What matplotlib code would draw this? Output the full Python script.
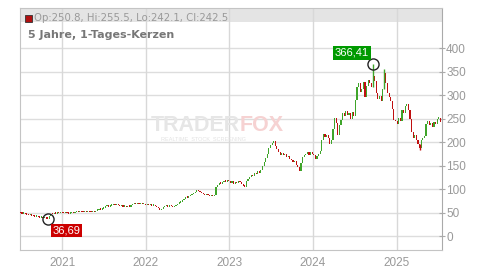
import matplotlib
matplotlib.use("Agg")
import matplotlib.pyplot as plt
import matplotlib.dates as mdates
import numpy as np
import pandas as pd

plt.rcParams['font.family'] = ['Liberation Sans', 'DejaVu Sans']

# Weekly closing prices
closes_2020 = [49, 48, 49, 47, 46,
               45, 46, 44, 43,
               42, 43, 41, 40,
               41, 39, 40, 38, 37.5,
               44, 48, 47, 49,
               48, 50, 49, 51]
closes_2021 = [50, 49, 51, 50, 48,
               49, 51, 50, 52,
               53, 51, 54, 52,
               51, 53, 52, 54, 52,
               51, 53, 52, 55,
               56, 58, 57, 59,
               61, 64, 66, 63, 65,
               67, 69, 66, 68,
               66, 64, 65, 63,
               64, 62, 65, 63, 66,
               68, 70, 69, 71,
               69, 70, 68, 69, 67]
closes_2022 = [68, 66, 67, 65,
               66, 64, 62, 60,
               56, 58, 62, 64,
               65, 63, 66, 64, 62,
               64, 67, 70, 72,
               74, 77, 80, 83,
               82, 85, 88, 90, 92,
               95, 98, 96, 94,
               92, 90, 88, 89, 87,
               86, 88, 85, 89,
               104, 110, 113, 112,
               115, 118, 116, 119, 117]
closes_2023 = [114, 117, 112, 116,
               113, 118, 115, 111,
               108, 106, 118, 122, 126,
               130, 128, 134, 132,
               138, 135, 142, 150,
               158, 166, 175, 188, 195,
               198, 202, 192, 185,
               180, 174, 178, 172,
               175, 168, 171, 165, 162,
               158, 160, 152, 148,
               140, 155, 168, 172,
               175, 179, 174, 180, 176]
closes_2024 = [172, 165, 170, 176,
               182, 205, 218, 212,
               216, 208, 196, 204, 228,
               252, 240, 215, 236,
               248, 262, 255, 266, 258,
               262, 250, 264, 255,
               290, 318, 325, 306,
               312, 328, 296, 320, 332,
               326, 318, 340, 330,
               304, 292, 298, 288,
               312, 348, 325, 305, 296,
               288, 270, 248, 245]
closes_2025 = [238, 252, 246, 268, 262,
               278, 282, 268, 250,
               222, 208, 215, 205,
               196, 188, 204, 210,
               214, 238, 246, 236, 240,
               232, 244, 238, 250,
               250.8, 242.5]

first_open = 50.0
start_date = "2020-07-03"

low_date, low_value = "2020-10-30", 36.69
high_date, high_value = "2024-09-20", 366.41
extra_high_date, extra_high_value = "2024-11-08", 355.0
extra_low_date, extra_low_value = "2025-04-11", 183.0

header_text = "Op:250.8, Hi:255.5, Lo:242.1, Cl:242.5"
title_text = "5 Jahre, 1-Tages-Kerzen"
y_ticks = [0, 50, 100, 150, 200, 250, 300, 350, 400]
x_tick_years = [2021, 2022, 2023, 2024, 2025]

closes = np.array(closes_2020 + closes_2021 + closes_2022 + closes_2023 + closes_2024 + closes_2025, dtype=float)
opens = np.concatenate([[first_open], closes[:-1]])
dates = pd.date_range(start_date, periods=len(closes), freq="7D")
xd = mdates.date2num(dates)

GREEN = "#3fa52a"
RED = "#c01010"

fig = plt.figure(figsize=(5, 2.7), dpi=100)
ax = fig.add_axes([20/500, 20/270, 422/500, 242/270])
ax.set_xlim(mdates.date2num(pd.Timestamp("2020-07-01")), mdates.date2num(pd.Timestamp("2025-07-18")))
ax.set_ylim(-28.7, 485)

# header band
ax.axhspan(455, 485, color="#e4e4e4", zorder=0, lw=0)

# grid
for yv in y_ticks:
    ax.axhline(yv, color="#dddddd", lw=1, zorder=1)
for yr in x_tick_years:
    ax.axvline(mdates.date2num(pd.Timestamp(f"{yr}-01-01")), color="#d8d8d8", lw=1, zorder=1)

# watermark
ax.text(0.521, 0.515, "TRADER", transform=ax.transAxes, ha="right", va="center",
        fontsize=15.5, fontweight="bold", color="#e6e6e6", zorder=1)
ax.text(0.521, 0.515, "FOX", transform=ax.transAxes, ha="left", va="center",
        fontsize=15.5, fontweight="bold", color="#f6d2d2", zorder=1)
ax.text(0.436, 0.458, "REALTIME  STOCK  SCREENING", transform=ax.transAxes, ha="center", va="center",
        fontsize=4.0, color="#e2e2e2", zorder=1)

# candles
up = closes >= opens
colors = np.where(up, GREEN, RED)
bottoms = np.minimum(opens, closes)
heights = np.maximum(np.abs(closes - opens), 3.0)
ax.bar(xd, heights, bottom=bottoms, width=5.0, color=colors, lw=0, zorder=3)

# notable wicks
def wick(d, v):
    x = mdates.date2num(pd.Timestamp(d))
    i = np.argmin(np.abs(xd - x))
    lo = min(opens[i], closes[i], v)
    hi = max(opens[i], closes[i], v)
    ax.vlines(xd[i], lo, hi, color=colors[i], lw=1, zorder=3)
    return xd[i]

lx = wick(low_date, low_value)
hx = wick(high_date, high_value)
wick(extra_high_date, extra_high_value)
wick(extra_low_date, extra_low_value)

ax.plot([lx], [low_value], marker="o", ms=8, mfc="none", mec="#222222", mew=1, zorder=5)
ax.plot([hx], [high_value], marker="o", ms=8, mfc="none", mec="#222222", mew=1, zorder=5)
ax.annotate(f"{low_value:.2f}".replace(".", ","), (lx, low_value), xytext=(19, -11),
            textcoords="offset pixels", ha="center", va="center", fontsize=8, color="white",
            bbox=dict(boxstyle="square,pad=0.15", fc="#cc0000", ec="none"), zorder=6)
ax.annotate(f"{high_value:.2f}".replace(".", ","), (hx, high_value), xytext=(-21, 11),
            textcoords="offset pixels", ha="center", va="center", fontsize=8, color="white",
            bbox=dict(boxstyle="square,pad=0.15", fc="#009a00", ec="none"), zorder=6)

# header texts
ax.add_patch(plt.Rectangle((0.012, 0.941), 0.0166, 0.029, transform=ax.transAxes,
                           fc="#b01010", ec="#333333", lw=0.6, zorder=4, clip_on=False))
ax.text(0.032, 0.957, header_text, transform=ax.transAxes, ha="left", va="center",
        fontsize=7.3, color="#999999", zorder=4, family=["DejaVu Sans"])
ax.text(0.019, 0.89, title_text, transform=ax.transAxes, ha="left", va="center",
        fontsize=8, fontweight="bold", color="#777777", zorder=4, family=["DejaVu Sans"])

# axes styling
for s in ["left", "top", "bottom"]:
    ax.spines[s].set_color("#c4c4c4")
ax.spines["right"].set_color("#aaaaaa")
ax.yaxis.tick_right()
ax.set_yticks(y_ticks)
ax.set_yticklabels([str(v) for v in y_ticks])
ax.tick_params(axis="y", direction="inout", length=4, width=0.8, colors="#aaaaaa",
               labelcolor="#999999", labelsize=8.5, pad=1)
ax.set_xticks([mdates.date2num(pd.Timestamp(f"{yr}-01-01")) for yr in x_tick_years])
ax.set_xticklabels([str(y) for y in x_tick_years])
ax.tick_params(axis="x", length=0, labelcolor="#999999", labelsize=8.5, pad=5)

fig.savefig("out.png", dpi=100)
